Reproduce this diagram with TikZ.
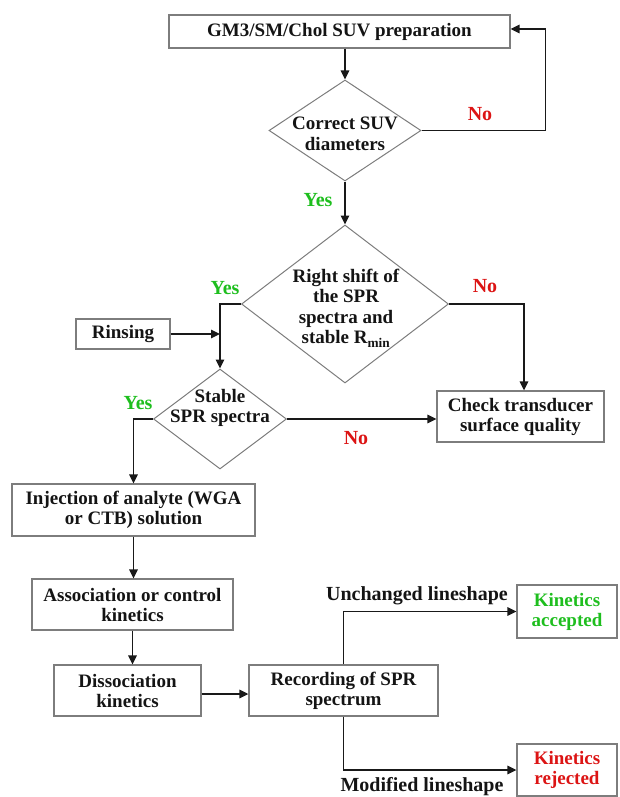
\documentclass[tikz,border=0pt]{standalone}
\usepackage{fontspec}
\setmainfont{Liberation Serif}
\usetikzlibrary{shapes.geometric,arrows.meta}
\definecolor{boxgray}{RGB}{125,125,125}
\definecolor{ygreen}{RGB}{30,190,30}
\definecolor{nred}{RGB}{220,20,20}
\definecolor{ink}{RGB}{20,20,20}
\begin{document}
\begin{tikzpicture}[x=1pt,y=-1pt,
  box/.style={draw=boxgray,line width=1.3pt,rectangle,inner sep=0pt,align=center,text=ink,font=\fontsize{19}{20}\selectfont\bfseries},
  dia/.style={draw=boxgray,line width=1pt,diamond,inner sep=0pt},
  dtxt/.style={align=center,text=ink,font=\fontsize{19}{20.5}\selectfont\bfseries,inner sep=0pt},
  lbl/.style={font=\fontsize{20}{22}\selectfont\bfseries,inner sep=0pt},
  arr/.style={draw=black!90,line width=1.6pt,-{Triangle[length=9pt,width=8.5pt]}}]
\useasboundingbox (0,0) rectangle (619,797);
% boxes and decisions
\node[box,minimum width=341pt,minimum height=33pt] (prep) at (339.5,31.5) {GM3/SM/Chol SUV preparation};
\node[dia,minimum width=152pt,minimum height=101pt] (d1) at (345,130.5) {};
\node[dtxt] (t1) at (345,134) {Correct SUV\\diameters};
\node[dia,minimum width=207pt,minimum height=158pt] (d2) at (345,304) {};
\node[dtxt] (t2) at (346,308) {Right shift of\\the SPR\\spectra and\\stable R\textsubscript{min}};
\node[box,minimum width=94pt,minimum height=30pt] (rinse) at (123,334) {Rinsing};
\node[dia,minimum width=133pt,minimum height=100pt] (d3) at (220,419) {};
\node[dtxt] (t3) at (220,408) {Stable\\SPR spectra};
\node[box,minimum width=167pt,minimum height=51pt] (check) at (520.5,416.5) {Check transducer\\surface quality};
\node[box,minimum width=243pt,minimum height=52pt] (inj) at (133.5,510) {Injection of analyte (WGA\\or CTB) solution};
\node[box,minimum width=201pt,minimum height=51pt] (assoc) at (132.5,604.5) {Association or control\\kinetics};
\node[box,minimum width=147pt,minimum height=51pt] (diss) at (127.5,690.5) {Dissociation\\kinetics};
\node[box,minimum width=189pt,minimum height=51pt] (rec) at (343.5,690.5) {Recording of SPR\\spectrum};
\node[box,minimum width=100pt,minimum height=53pt,text=ygreen] (acc) at (567,611.5) {Kinetics\\accepted};
\node[box,minimum width=100pt,minimum height=52pt,text=nred] (rej) at (567,770) {Kinetics\\rejected};
% connectors
\draw[arr] (d1.north |- prep.south) -- (d1.north);
\draw[arr] (d1.east) -- ++(124,0) |- ([yshift=2.5pt]prep.east);
\draw[arr] (d1.south) -- (d2.north);
\draw[arr] (d2.west) -| (d3.north);
\draw[arr] (rinse.east) -- (rinse.east -| d3.north);
\draw[arr] (d2.east) -| ([xshift=3.5pt]check.north);
\draw[arr] (d3.east) -- (d3.east -| check.west);
\draw[arr] (d3.west) -| (inj.north);
\draw[arr] (inj.south) -- (inj.south |- assoc.north);
\draw[arr] (assoc.south) -- (assoc.south |- diss.north);
\draw[arr] ([yshift=-3.5pt]diss.east) -- ([yshift=-3.5pt]diss.east -| rec.west);
\draw[arr] (rec.north) |- (acc.west);
\draw[arr] (rec.south) |- (rej.west);
% labels
\node[lbl,text=nred] (no1) at (480,114) {No};
\node[lbl,text=ygreen] (yes1) at (318,200) {Yes};
\node[lbl,text=ygreen] (yes2) at (225,288) {Yes};
\node[lbl,text=nred] (no2) at (485,286) {No};
\node[lbl,text=ygreen] (yes3) at (138,403) {Yes};
\node[lbl,text=nred] (no3) at (356,438) {No};
\node[lbl,text=ink] (unch) at (417,596) {Unchanged lineshape};
\node[lbl,text=ink] (modi) at (422,786.5) {Modified lineshape};
\end{tikzpicture}
\end{document}
